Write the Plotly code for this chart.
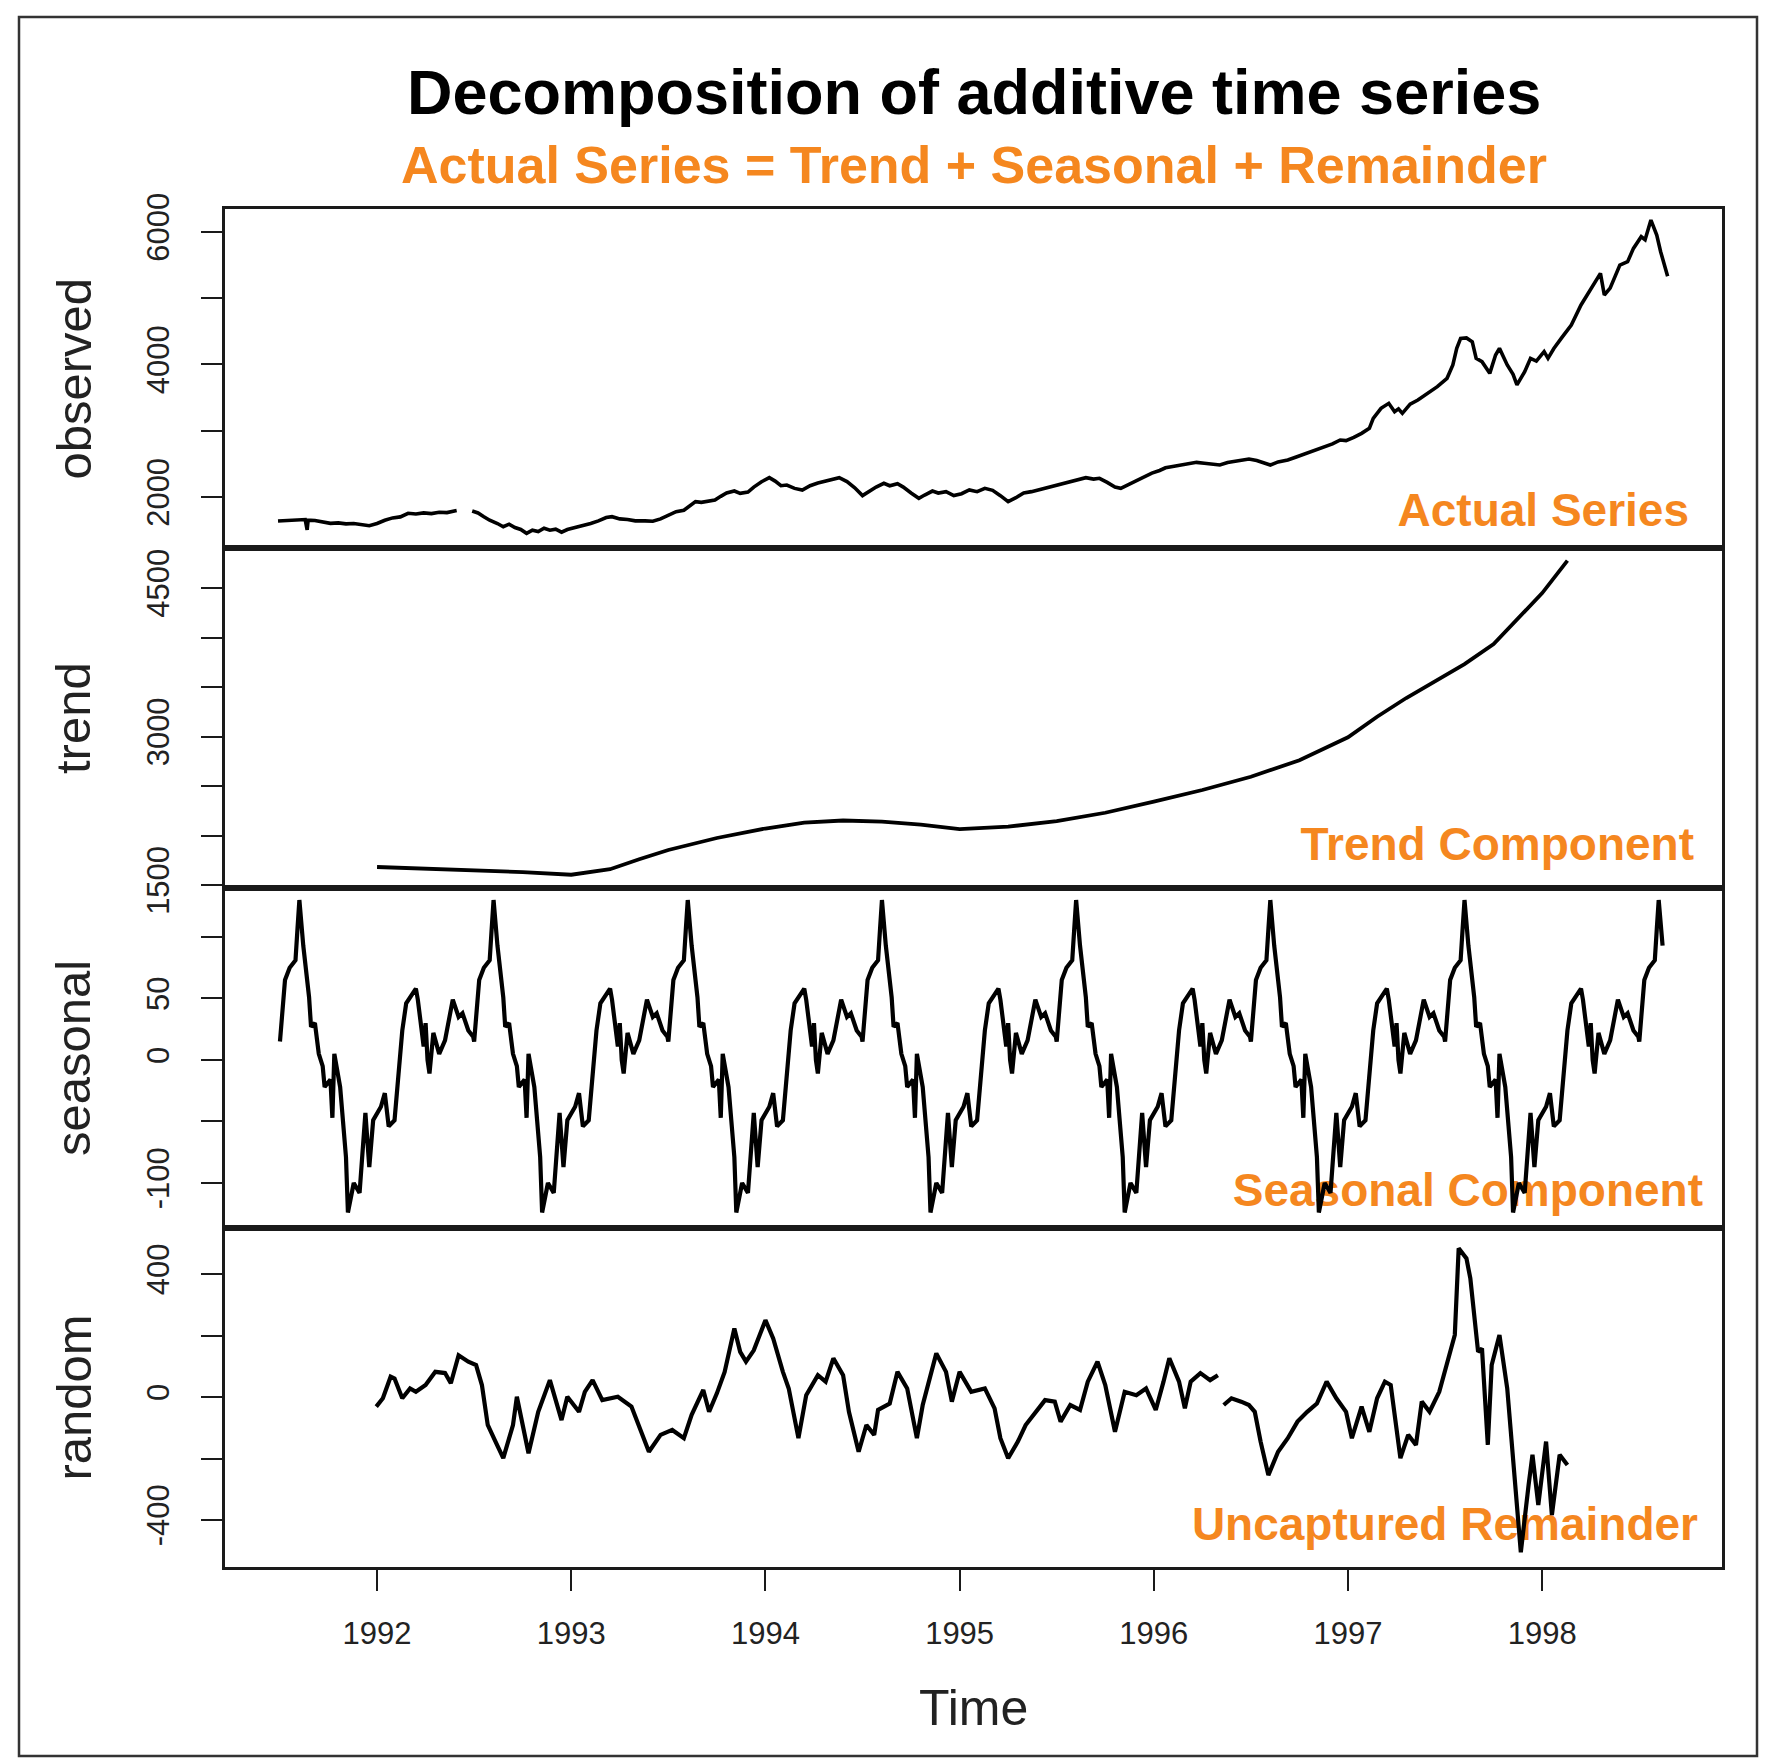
import plotly.graph_objects as go

W, H = 1765, 1761

# ---------------- data ----------------
observed_t = [1991.49, 1991.53, 1991.57, 1991.60, 1991.63, 1991.640, 1991.645, 1991.68, 1991.72, 1991.76,
              1991.80, 1991.84, 1991.88, 1991.92, 1991.96, 1992.00, 1992.04, 1992.08, 1992.12, 1992.16,
              1992.20, 1992.24, 1992.28, 1992.32, 1992.36, 1992.41, 1992.45, 1992.49, 1992.52, 1992.55,
              1992.58, 1992.62, 1992.65, 1992.68, 1992.71, 1992.74, 1992.77, 1992.80, 1992.83, 1992.86,
              1992.89, 1992.92, 1992.95, 1992.98, 1993.02, 1993.06, 1993.10, 1993.14, 1993.18, 1993.21,
              1993.25, 1993.29, 1993.33, 1993.38, 1993.42, 1993.46, 1993.50, 1993.54, 1993.58, 1993.61,
              1993.64, 1993.67, 1993.70, 1993.74, 1993.77, 1993.80, 1993.84, 1993.87, 1993.91, 1993.94,
              1993.98, 1994.02, 1994.05, 1994.08, 1994.11, 1994.15, 1994.19, 1994.23, 1994.27, 1994.31,
              1994.35, 1994.38, 1994.42, 1994.46, 1994.50, 1994.53, 1994.57, 1994.61, 1994.64, 1994.68,
              1994.71, 1994.75, 1994.79, 1994.82, 1994.86, 1994.89, 1994.93, 1994.97, 1995.01, 1995.05,
              1995.09, 1995.13, 1995.17, 1995.21, 1995.25, 1995.29, 1995.33, 1995.37, 1995.42, 1995.46,
              1995.50, 1995.54, 1995.58, 1995.62, 1995.65, 1995.69, 1995.72, 1995.76, 1995.80, 1995.83,
              1995.87, 1995.91, 1995.95, 1995.99, 1996.03, 1996.06, 1996.09, 1996.13, 1996.17, 1996.22,
              1996.26, 1996.30, 1996.34, 1996.38, 1996.42, 1996.46, 1996.49, 1996.53, 1996.57, 1996.60,
              1996.64, 1996.69, 1996.73, 1996.78, 1996.84, 1996.88, 1996.92, 1996.96, 1996.99, 1997.03,
              1997.07, 1997.11, 1997.13, 1997.17, 1997.21, 1997.24, 1997.26, 1997.28, 1997.32, 1997.36,
              1997.41, 1997.46, 1997.51, 1997.54, 1997.56, 1997.58, 1997.61, 1997.64, 1997.66, 1997.69,
              1997.73, 1997.76, 1997.78, 1997.82, 1997.85, 1997.87, 1997.91, 1997.94, 1997.97, 1998.01,
              1998.03, 1998.06, 1998.10, 1998.15, 1998.20, 1998.25, 1998.30, 1998.32, 1998.35, 1998.40,
              1998.44, 1998.47, 1998.51, 1998.53, 1998.56, 1998.59, 1998.61, 1998.646]
observed_v = [1638, 1645, 1640, 1655, 1660, 1505, 1650, 1645, 1625, 1603,
              1610, 1595, 1600, 1580, 1568, 1600, 1650, 1685, 1700, 1754,
              1745, 1760, 1750, 1770, 1765, 1795, None, 1789, 1760, 1703,
              1650, 1600, 1552, 1590, 1540, 1510, 1452, 1500, 1480, 1530,
              1500, 1515, 1470, 1510, 1540, 1560, 1600, 1640, 1690, 1703,
              1670, 1660, 1640, 1640, 1635, 1670, 1720, 1779, 1800, 1870,
              1930, 1920, 1940, 1955, 2010, 2060, 2091, 2055, 2075, 2150,
              2230, 2292, 2240, 2170, 2180, 2130, 2106, 2170, 2210, 2240,
              2260, 2292, 2232, 2140, 2021, 2080, 2150, 2207, 2170, 2200,
              2150, 2060, 1981, 2030, 2090, 2060, 2080, 2021, 2050, 2106,
              2081, 2131, 2100, 2020, 1930, 1990, 2060, 2081, 2120, 2150,
              2181, 2200, 2240, 2270, 2292, 2270, 2282, 2220, 2150, 2131,
              2190, 2250, 2307, 2360, 2400, 2440, 2458, 2480, 2500, 2523,
              2510, 2490, 2483, 2520, 2540, 2560, 2574, 2550, 2510, 2483,
              2530, 2559, 2600, 2650, 2709, 2760, 2800, 2860, 2850, 2900,
              2960, 3036, 3187, 3338, 3413, 3287, 3330, 3262, 3400, 3463,
              3564, 3664, 3790, 3991, 4242, 4393, 4400, 4340, 4092, 4041,
              3865, 4142, 4242, 3991, 3850, 3690, 3890, 4092, 4050, 4192,
              4092, 4240, 4400, 4594, 4897, 5148, 5373, 5047, 5150, 5499,
              5550, 5750, 5926, 5880, 6177, 5951, 5700, 5330]

trend_t = [1992.00, 1992.25, 1992.50, 1992.75, 1993.00, 1993.20, 1993.35, 1993.50, 1993.75, 1994.00,
           1994.20, 1994.40, 1994.60, 1994.80, 1995.00, 1995.25, 1995.50, 1995.75, 1996.00, 1996.25,
           1996.50, 1996.75, 1997.00, 1997.15, 1997.30, 1997.45, 1997.60, 1997.75, 1997.90, 1998.00,
           1998.13]
trend_v = [1682, 1665, 1652, 1630, 1604, 1660, 1760, 1854, 1975, 2071,
           2130, 2152, 2140, 2110, 2065, 2090, 2145, 2230, 2343, 2460,
           2594, 2760, 2992, 3200, 3389, 3560, 3732, 3934, 4242, 4449,
           4777]

# one seasonal cycle (the additive seasonal figure repeats every year)
seasonal_cycle_t = [1991.500, 1991.515, 1991.526, 1991.55, 1991.58, 1991.59, 1991.60, 1991.62, 1991.65, 1991.66,
                    1991.68, 1991.70, 1991.72, 1991.73, 1991.76, 1991.77, 1991.78, 1991.81, 1991.84, 1991.85,
                    1991.88, 1991.91, 1991.94, 1991.96, 1991.98, 1992.02, 1992.04, 1992.06, 1992.09, 1992.13,
                    1992.15, 1992.20, 1992.21, 1992.24, 1992.25, 1992.26, 1992.27, 1992.29, 1992.32, 1992.35,
                    1992.39, 1992.42, 1992.44, 1992.47, 1992.495]
seasonal_cycle_v = [15, 50, 65, 75, 81, 106, 130, 93, 51, 27,
                    30, 5, -5, -22, -16, -47, 5, -22, -79, -124,
                    -100, -108, -43, -87, -49, -38, -27, -54, -49, 24,
                    46, 58, 49, 11, 30, 0, -11, 22, 5, 16,
                    49, 35, 38, 24, 19]
seasonal_years = [0, 1, 2, 3, 4, 5, 6, 7]
series_end = 1998.646

random_t = [1991.996, 1992.03, 1992.07, 1992.09, 1992.13, 1992.17, 1992.20, 1992.25, 1992.30, 1992.35,
            1992.38, 1992.42, 1992.47, 1992.51, 1992.54, 1992.57, 1992.61, 1992.65, 1992.70, 1992.72,
            1992.78, 1992.83, 1992.89, 1992.95, 1992.98, 1993.04, 1993.07, 1993.11, 1993.16, 1993.24,
            1993.31, 1993.40, 1993.46, 1993.52, 1993.58, 1993.62, 1993.68, 1993.71, 1993.75, 1993.79,
            1993.84, 1993.87, 1993.90, 1993.94, 1994.00, 1994.04, 1994.09, 1994.12, 1994.17, 1994.21,
            1994.27, 1994.31, 1994.35, 1994.40, 1994.43, 1994.48, 1994.52, 1994.56, 1994.58, 1994.64,
            1994.68, 1994.73, 1994.78, 1994.81, 1994.88, 1994.93, 1994.96, 1995.00, 1995.06, 1995.13,
            1995.18, 1995.21, 1995.25, 1995.30, 1995.34, 1995.39, 1995.44, 1995.49, 1995.52, 1995.57,
            1995.62, 1995.66, 1995.71, 1995.75, 1995.80, 1995.85, 1995.91, 1995.96, 1996.01, 1996.05,
            1996.08, 1996.13, 1996.16, 1996.19, 1996.24, 1996.29, 1996.33, 1996.345, 1996.36, 1996.40,
            1996.45, 1996.49, 1996.52, 1996.55, 1996.59, 1996.64, 1996.69, 1996.74, 1996.79, 1996.84,
            1996.89, 1996.94, 1996.99, 1997.02, 1997.07, 1997.11, 1997.15, 1997.19, 1997.22, 1997.27,
            1997.31, 1997.35, 1997.38, 1997.42, 1997.47, 1997.51, 1997.55, 1997.57, 1997.61, 1997.63,
            1997.67, 1997.69, 1997.72, 1997.74, 1997.78, 1997.82, 1997.86, 1997.89, 1997.93, 1997.95,
            1997.98, 1998.02, 1998.05, 1998.09, 1998.13]
random_v = [-31, -4, 66, 60, -4, 28, 17, 39, 82, 78,
            45, 136, 115, 104, 39, -91, -145, -199, -91, 1,
            -183, -48, 55, -75, 1, -48, 17, 55, -10, 1,
            -31, -178, -123, -107, -134, -58, 23, -48, 12, 82,
            223, 147, 115, 152, 250, 191, 82, 28, -134, 6,
            71, 50, 126, 71, -48, -178, -91, -123, -42, -21,
            82, 28, -134, -26, 142, 82, -15, 82, 17, 28,
            -37, -134, -199, -145, -91, -48, -10, -15, -80, -26,
            -42, 50, 115, 39, -113, 17, 6, 28, -42, 50,
            126, 50, -37, 50, 78, 55, 71, None, -26, -4,
            -15, -26, -48, -145, -254, -178, -134, -80, -48, -21,
            50, -4, -48, -134, -31, -113, -4, 50, 39, -199,
            -123, -156, -15, -48, 17, 104, 202, 484, 451, 386,
            147, 158, -156, 104, 202, 28, -297, -505, -286, -188,
            -351, -145, -384, -188, -221]

year_ticks = [1992, 1993, 1994, 1995, 1996, 1997, 1998]

obs_ticks = [2000, 3000, 4000, 5000, 6000]
obs_text = ["2000", "", "4000", "", "6000"]
trend_ticks = [1500, 2000, 2500, 3000, 3500, 4000, 4500]
trend_text = ["1500", "", "", "3000", "", "", "4500"]
seas_ticks = [-100, -50, 0, 50, 100]
seas_text = ["-100", "", "0", "50", ""]
rand_ticks = [-400, -200, 0, 200, 400]
rand_text = ["-400", "", "0", "", "400"]

panel_titles = ["observed", "trend", "seasonal", "random"]
panel_notes = ["Actual Series", "Trend Component", "Seasonal Component", "Uncaptured Remainder"]

# build the tiled seasonal series from the single cycle read above
seasonal_t, seasonal_v = [], []
for k in seasonal_years:
    for t, v in zip(seasonal_cycle_t, seasonal_cycle_v):
        if t + k <= series_end + 1e-9:
            seasonal_t.append(t + k)
            seasonal_v.append(v)

# ---------------- layout helpers ----------------
def px(x):
    return x / W

def py(y):
    return 1 - y / H

FONT = "Liberation Sans, Arial, Helvetica, sans-serif"
ORANGE = "#F5871F"
LINE = "#1a1a1a"

x_left, x_right = 225, 1722
panel_edges = [209, 548, 888, 1228, 1567]
x_range = [1991.217, 1998.926]
y_ranges = [[1231, 6344], [1470, 4904], [-136.6, 139.8], [-553, 550]]
tick_sets = [(obs_ticks, obs_text), (trend_ticks, trend_text), (seas_ticks, seas_text), (rand_ticks, rand_text)]
series = [(observed_t, observed_v), (trend_t, trend_v), (seasonal_t, seasonal_v), (random_t, random_v)]
widths = [3.6, 3.8, 4.2, 4.2]
note_pos = [(1689, 506), (1694, 840), (1703, 1186), (1698, 1520)]

fig = go.Figure()
layout = dict(
    template="none",
    width=W, height=H, autosize=False,
    margin=dict(l=0, r=0, t=0, b=0, pad=0, autoexpand=False),
    paper_bgcolor="white", plot_bgcolor="rgba(0,0,0,0)",
    showlegend=False,
    font=dict(family=FONT, color="black"),
)

for i in range(4):
    n = "" if i == 0 else str(i + 1)
    xa, ya = "x" + n, "y" + n
    t, v = series[i]
    fig.add_trace(go.Scatter(x=t, y=v, mode="lines", xaxis=xa, yaxis=ya,
                             line=dict(color="black", width=widths[i]), connectgaps=False,
                             hoverinfo="skip"))
    top, bot = panel_edges[i], panel_edges[i + 1]
    bottom_panel = (i == 3)
    layout["xaxis" + n] = dict(
        domain=[px(x_left), px(x_right)], anchor=ya, range=x_range,
        automargin=False,
        showgrid=False, zeroline=False, showline=True, mirror=True,
        linecolor=LINE, linewidth=2.5,
        ticks="outside" if bottom_panel else "",
        tickvals=year_ticks if bottom_panel else [],
        ticktext=[str(y) for y in year_ticks] if bottom_panel else [],
        showticklabels=bottom_panel,
        ticklen=21, tickwidth=2, tickcolor=LINE,
        ticklabelstandoff=16,
        tickfont=dict(size=31, family=FONT, color="#222"),
    )
    tv, tt = tick_sets[i]
    layout["yaxis" + n] = dict(
        domain=[py(bot), py(top)], anchor=xa, range=y_ranges[i],
        automargin=False,
        showgrid=False, zeroline=False, showline=True, mirror=True,
        linecolor=LINE, linewidth=2.5,
        ticks="outside", ticklen=21, tickwidth=2, tickcolor=LINE,
        tickvals=tv, ticktext=tt, tickangle=-90,
        ticklabelstandoff=20,
        tickfont=dict(size=31, family=FONT, color="#222"),
    )

fig.update_layout(**layout)

ann = []
ann.append(dict(x=px(973.5), y=py(92), xref="paper", yref="paper", showarrow=False,
                text="<b>Decomposition of additive time series</b>",
                font=dict(size=63, family=FONT, color="black"), xanchor="center", yanchor="middle"))
ann.append(dict(x=px(973.5), y=py(165), xref="paper", yref="paper", showarrow=False,
                text="<b>Actual Series = Trend + Seasonal + Remainder</b>",
                font=dict(size=52, family=FONT, color=ORANGE), xanchor="center", yanchor="middle"))
for i, label in enumerate(panel_titles):
    cy = (panel_edges[i] + panel_edges[i + 1]) / 2
    ann.append(dict(x=px(73), y=py(cy), xref="paper", yref="paper", showarrow=False,
                    text=label, textangle=-90,
                    font=dict(size=49, family=FONT, color="#222"), xanchor="center", yanchor="middle"))
ann.append(dict(x=px(973.5), y=py(1708), xref="paper", yref="paper", showarrow=False,
                text="Time", font=dict(size=50, family=FONT, color="#222"),
                xanchor="center", yanchor="middle"))
fig.update_layout(annotations=ann)

# panel notes drawn underneath the data lines (as in the reference)
for label, (xr, yc) in zip(panel_notes, note_pos):
    fig.add_shape(type="line", xref="paper", yref="paper",
                  x0=px(xr - 700), x1=px(xr), y0=py(yc), y1=py(yc),
                  line=dict(color="rgba(0,0,0,0)", width=1), layer="below",
                  label=dict(text=label, textposition="end", xanchor="right", yanchor="middle",
                             padding=0,
                             font=dict(size=46, family=FONT, color=ORANGE, weight="bold")))

# outer frame of the figure
fig.add_shape(type="rect", xref="paper", yref="paper",
              x0=px(19), x1=px(1757), y0=py(1756), y1=py(17),
              line=dict(color="#333", width=2.5), fillcolor="rgba(0,0,0,0)", layer="below")

fig.write_html("out.html")
